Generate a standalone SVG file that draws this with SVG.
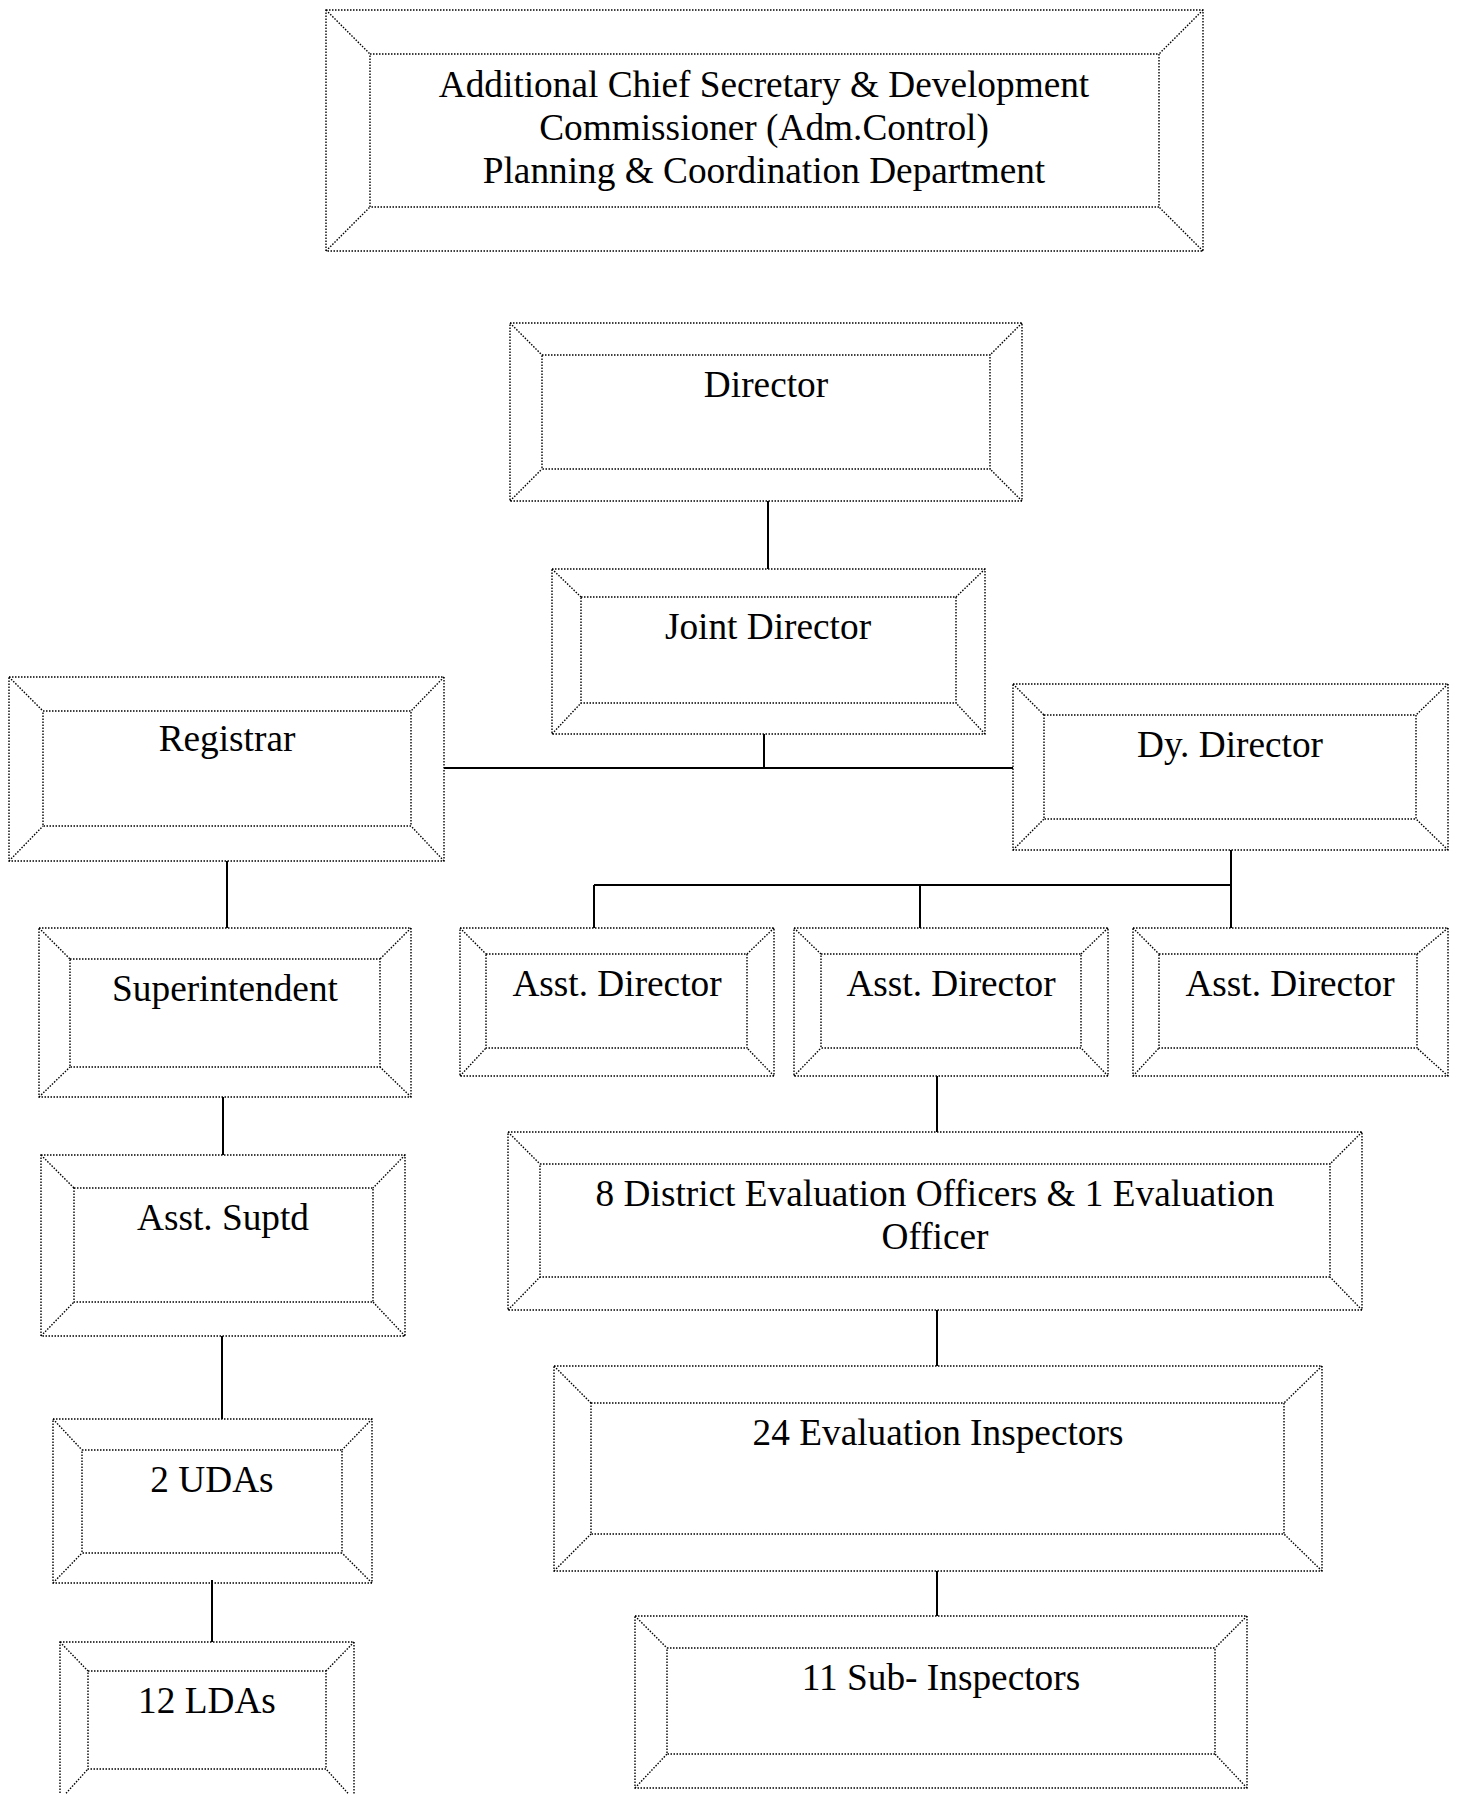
<svg xmlns="http://www.w3.org/2000/svg" width="1458" height="1794" viewBox="0 0 1458 1794">
<style>
.b{fill:none;stroke:#000;stroke-width:1.4;stroke-dasharray:1.5 1.5}
.c{fill:none;stroke:#000;stroke-width:2}
text{font-family:"Liberation Serif","Times New Roman",serif;font-size:37.3px;fill:#000;text-anchor:middle}
</style>
<rect width="1458" height="1794" fill="#fff"/>
<g id="connectors">
<path class="c" d="M768 501V569M764 734V768M444 768H1013M1231 850V928M594 885H1231M594 885V928M920 885V928M937 1076V1132M937 1310V1366M937 1571V1616M227 861V928M223 1097V1155M222 1336V1419M212 1580V1642"/>
</g>
<g id="top">
<rect class="b" x="326" y="10" width="877" height="241"/>
<rect class="b" x="370" y="54" width="789" height="153"/>
<path class="b" d="M326 10L370 54M1203 10L1159 54M326 251L370 207M1203 251L1159 207"/>
<text x="764" y="97">Additional Chief Secretary &amp; Development</text>
<text x="764" y="140">Commissioner (Adm.Control)</text>
<text x="764" y="183">Planning &amp; Coordination Department</text>
</g>
<g id="director">
<rect class="b" x="510" y="323" width="512" height="178"/>
<rect class="b" x="542" y="355" width="448" height="114"/>
<path class="b" d="M510 323L542 355M1022 323L990 355M510 501L542 469M1022 501L990 469"/>
<text x="766" y="397">Director</text>
</g>
<g id="joint-director">
<rect class="b" x="552" y="569" width="433" height="165"/>
<rect class="b" x="581" y="597" width="375" height="106"/>
<path class="b" d="M552 569L581 597M985 569L956 597M552 734L581 703M985 734L956 703"/>
<text x="768" y="639">Joint Director</text>
</g>
<g id="registrar">
<rect class="b" x="9" y="677" width="435" height="184"/>
<rect class="b" x="43" y="711" width="368" height="115"/>
<path class="b" d="M9 677L43 711M444 677L411 711M9 861L43 826M444 861L411 826"/>
<text x="227" y="751">Registrar</text>
</g>
<g id="dy-director">
<rect class="b" x="1013" y="684" width="435" height="166"/>
<rect class="b" x="1044" y="715" width="372" height="104"/>
<path class="b" d="M1013 684L1044 715M1448 684L1416 715M1013 850L1044 819M1448 850L1416 819"/>
<text x="1230" y="757">Dy. Director</text>
</g>
<g id="asst-director-1">
<rect class="b" x="460" y="928" width="314" height="148"/>
<rect class="b" x="486" y="954" width="261" height="94"/>
<path class="b" d="M460 928L486 954M774 928L747 954M460 1076L486 1048M774 1076L747 1048"/>
<text x="617" y="996">Asst. Director</text>
</g>
<g id="asst-director-2">
<rect class="b" x="794" y="928" width="314" height="148"/>
<rect class="b" x="821" y="954" width="260" height="94"/>
<path class="b" d="M794 928L821 954M1108 928L1081 954M794 1076L821 1048M1108 1076L1081 1048"/>
<text x="951" y="996">Asst. Director</text>
</g>
<g id="asst-director-3">
<rect class="b" x="1133" y="928" width="315" height="148"/>
<rect class="b" x="1159" y="954" width="258" height="94"/>
<path class="b" d="M1133 928L1159 954M1448 928L1417 954M1133 1076L1159 1048M1448 1076L1417 1048"/>
<text x="1290" y="996">Asst. Director</text>
</g>
<g id="district-evaluation-officers">
<rect class="b" x="508" y="1132" width="854" height="178"/>
<rect class="b" x="540" y="1164" width="790" height="113"/>
<path class="b" d="M508 1132L540 1164M1362 1132L1330 1164M508 1310L540 1277M1362 1310L1330 1277"/>
<text x="935" y="1206">8 District Evaluation Officers &amp; 1 Evaluation</text>
<text x="935" y="1249">Officer</text>
</g>
<g id="evaluation-inspectors">
<rect class="b" x="554" y="1366" width="768" height="205"/>
<rect class="b" x="591" y="1403" width="693" height="131"/>
<path class="b" d="M554 1366L591 1403M1322 1366L1284 1403M554 1571L591 1534M1322 1571L1284 1534"/>
<text x="938" y="1445">24 Evaluation Inspectors</text>
</g>
<g id="sub-inspectors">
<rect class="b" x="635" y="1616" width="612" height="172"/>
<rect class="b" x="667" y="1648" width="548" height="106"/>
<path class="b" d="M635 1616L667 1648M1247 1616L1215 1648M635 1788L667 1754M1247 1788L1215 1754"/>
<text x="941" y="1690">11 Sub- Inspectors</text>
</g>
<g id="superintendent">
<rect class="b" x="39" y="928" width="372" height="169"/>
<rect class="b" x="70" y="959" width="310" height="108"/>
<path class="b" d="M39 928L70 959M411 928L380 959M39 1097L70 1067M411 1097L380 1067"/>
<text x="225" y="1001">Superintendent</text>
</g>
<g id="asst-suptd">
<rect class="b" x="41" y="1155" width="364" height="181"/>
<rect class="b" x="74" y="1188" width="299" height="114"/>
<path class="b" d="M41 1155L74 1188M405 1155L373 1188M41 1336L74 1302M405 1336L373 1302"/>
<text x="223" y="1230">Asst. Suptd</text>
</g>
<g id="udas">
<rect class="b" x="53" y="1419" width="319" height="164"/>
<rect class="b" x="82" y="1450" width="260" height="103"/>
<path class="b" d="M53 1419L82 1450M372 1419L342 1450M53 1583L82 1553M372 1583L342 1553"/>
<text x="212" y="1492">2 UDAs</text>
</g>
<g id="ldas">
<rect class="b" x="60" y="1642" width="294" height="158"/>
<rect class="b" x="88" y="1671" width="238" height="98"/>
<path class="b" d="M60 1642L88 1671M354 1642L326 1671M60 1800L88 1769M354 1800L326 1769"/>
<text x="207" y="1713">12 LDAs</text>
</g>
</svg>
